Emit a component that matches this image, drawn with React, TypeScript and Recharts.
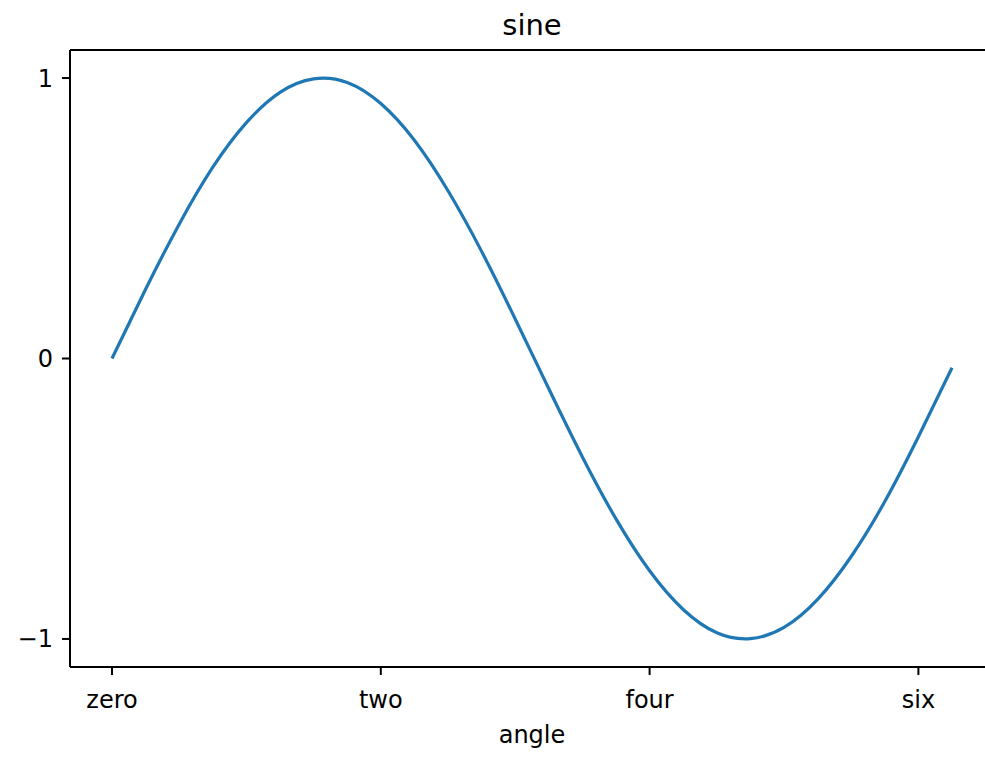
import { LineChart, Line, XAxis, YAxis, Label, ReferenceLine } from 'recharts';

// values (evenly spaced angles)
const angles = [
  0, 0.25, 0.5, 0.75, 1.0, 1.25, 1.5, 1.75, 2.0, 2.25, 2.5, 2.75, 3.0,
  3.25, 3.5, 3.75, 4.0, 4.25, 4.5, 4.75, 5.0, 5.25, 5.5, 5.75, 6.0, 6.25,
];
const sineValues = [
  0, 0.247, 0.479, 0.682, 0.841, 0.949, 0.997, 0.984, 0.909, 0.778, 0.598, 0.382, 0.141,
  -0.108, -0.351, -0.572, -0.757, -0.895, -0.978, -0.999, -0.959, -0.859, -0.706, -0.51, -0.279, -0.033,
];

const xTicks = [0, 2, 4, 6];
const xTickLabels = ['zero', 'two', 'four', 'six'];
const yTicks = [-1, 0, 1];
const yTickLabels = ['\u22121', '0', '1'];

const data = angles.map((a, i) => ({ angle: a, sine: sineValues[i] }));

const FONT = '"DejaVu Sans", sans-serif';
const xDomain = [-0.3125, 6.5625];
const yDomain = [-1.1, 1.1];

export default function App() {
  return (
    <div
      style={{
        position: 'absolute',
        left: 0,
        top: 0,
        width: 985,
        height: 758,
        overflow: 'hidden',
        background: '#fff',
      }}
    >
      <LineChart
        width={994}
        height={758}
        data={data}
        margin={{ top: 50, right: 0, bottom: 0, left: 0 }}
      >
        <XAxis
          dataKey="angle"
          type="number"
          domain={xDomain}
          allowDataOverflow
          ticks={xTicks}
          interval={0}
          tickFormatter={(v) => xTickLabels[xTicks.indexOf(v)]}
          height={91}
          tickSize={8}
          tickMargin={16}
          tick={{ fontFamily: FONT, fontSize: 24, fill: '#000' }}
          tickLine={{ stroke: '#000', strokeWidth: 2 }}
          axisLine={{ stroke: '#000', strokeWidth: 2 }}
        >
          <Label
            value="angle"
            position="insideBottom"
            offset={15}
            style={{ fontFamily: FONT, fontSize: 24, fill: '#000' }}
          />
        </XAxis>
        <YAxis
          type="number"
          domain={yDomain}
          allowDataOverflow
          ticks={yTicks}
          interval={0}
          tickFormatter={(v) => yTickLabels[yTicks.indexOf(v)]}
          width={70}
          tickSize={8}
          tickMargin={9}
          tick={{ fontFamily: FONT, fontSize: 24, fill: '#000' }}
          tickLine={{ stroke: '#000', strokeWidth: 2 }}
          axisLine={{ stroke: '#000', strokeWidth: 2 }}
        />
        {/* top spine + title */}
        <ReferenceLine y={yDomain[1]} stroke="#000" strokeWidth={2}>
          <Label
            value="sine"
            position="top"
            offset={15}
            style={{ fontFamily: FONT, fontSize: 29, fill: '#000' }}
          />
        </ReferenceLine>
        <Line
          type="natural"
          dataKey="sine"
          stroke="#1f77b4"
          strokeWidth={3.2}
          dot={false}
          isAnimationActive={false}
        />
      </LineChart>
    </div>
  );
}
